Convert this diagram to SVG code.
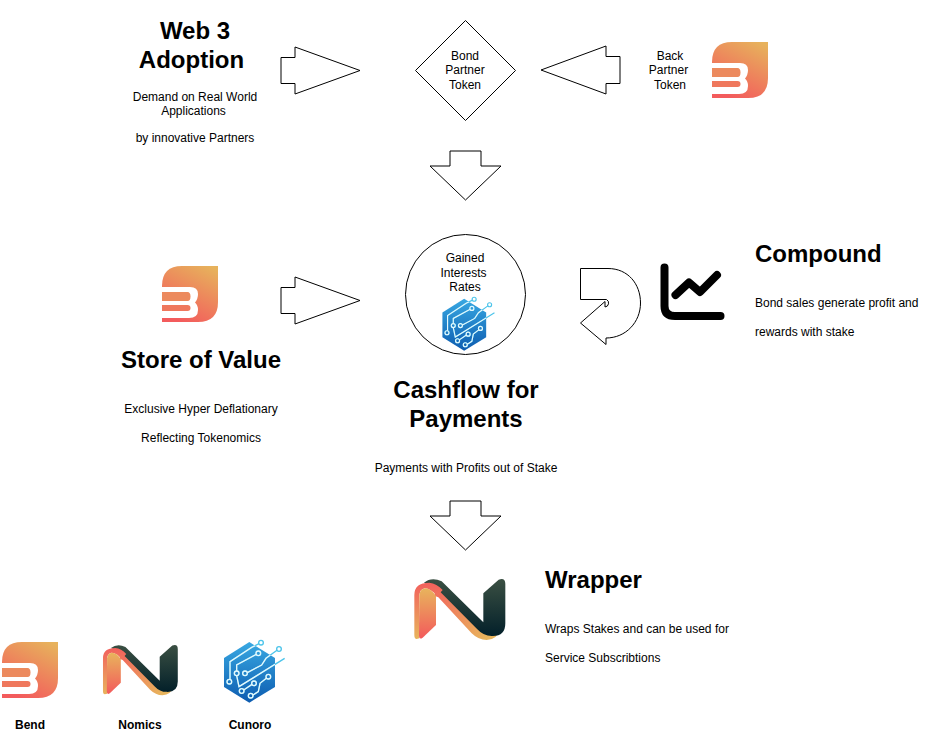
<svg xmlns="http://www.w3.org/2000/svg" width="931" height="741" viewBox="0 0 931 741">
<style>
text{font-family:"Liberation Sans",Arial,Helvetica,sans-serif;fill:#000;text-anchor:middle}
.t{font-size:12px}
.l{font-size:12px;text-anchor:start}
.h{font-size:24px;font-weight:bold}
.hl{font-size:24px;font-weight:bold;text-anchor:start}
.b{font-size:12px;font-weight:bold}
.s{fill:#fff;stroke:#000;stroke-width:1}
</style>
<defs>
<linearGradient id="bg" x1="0.85" y1="0" x2="0.35" y2="1"><stop offset="0" stop-color="#e7b25c"/><stop offset="1" stop-color="#f35b5c"/></linearGradient>
<linearGradient id="nd" x1="0" y1="0" x2="0" y2="1"><stop offset="0" stop-color="#3a4f42"/><stop offset="1" stop-color="#03202a"/></linearGradient>
<linearGradient id="no" x1="0" y1="0" x2="1" y2="0.6"><stop offset="0" stop-color="#f2605c"/><stop offset="1" stop-color="#e8b45c"/></linearGradient>
<linearGradient id="nr" x1="0" y1="0" x2="0" y2="1"><stop offset="0" stop-color="#f2605c"/><stop offset="1" stop-color="#e8b45c"/></linearGradient>
<linearGradient id="ni" x1="0" y1="0" x2="0" y2="1"><stop offset="0" stop-color="#e8b45c"/><stop offset="1" stop-color="#f35a5c"/></linearGradient>
<linearGradient id="cb" x1="0" y1="0" x2="0" y2="1"><stop offset="0" stop-color="#38a8e2"/><stop offset="1" stop-color="#0d5cb0"/></linearGradient>
<clipPath id="hex"><path d="M118,36L195,84V171L118,218L42,171V84Z"/></clipPath>
<path id="bend-bars" d="M0,21H28Q36,21 36,28Q36,33 33,36.500Q36,39 36,44Q36,52 27,52H0Z"/>
<g id="bend">
<path d="M20,0H56V36Q56,56 36,56H0V20Q0,0 20,0Z" fill="url(#bg)"/>
<use href="#bend-bars" fill="#fff"/>
<path d="M0,26H25.500Q28.500,26 28.500,30.500Q28.500,35 25.500,35H0Z" fill="#ec8a5e"/>
<path d="M0,39H25.500Q28.500,39 28.500,42Q28.500,45 25.500,45H0Z" fill="#ef785d"/>
</g>
<g id="nomics">
<path d="M100,70Q125,80 135,95L240,205Q262,222 302,205Q292,240 260,240Q235,240 215,220L115,112L105,108Z" fill="url(#no)"/>
<path d="M72,68Q95,50 125,64L250,187V100L296,59Q316,52 316,72V190Q316,230 275,228Q250,228 232,208L110,85Z" fill="url(#nd)"/>
<path d="M43,105Q43,68 88,68Q110,70 128,90L112,108Q90,85 75,85Q60,87 58,105V235L50,237Q43,237 43,225Z" fill="url(#nr)"/>
<path d="M58,105Q60,87 76,85Q92,85 108,108V195L68,233Q58,240 57,228Z" fill="url(#ni)"/>
</g>
<g id="circuit" fill="none" stroke-width="4">
<path d="M147,41L125,52L60,95V148M139,73L80,105V123M201,61L168,85L155,105L112,128M224,85L87,170L80,137M169,145L150,160L145,185L129,195M126,163L101,180"/>
<circle cx="153" cy="38" r="7"/><circle cx="207" cy="57" r="7"/><circle cx="145" cy="70" r="7"/><circle cx="80" cy="130" r="7"/><circle cx="105" cy="130" r="7"/><circle cx="58" cy="155" r="7"/><circle cx="175" cy="140" r="7"/><circle cx="132" cy="160" r="7"/><circle cx="95" cy="183" r="7"/><circle cx="122" cy="197" r="7"/>
</g>
<g id="cunoro">
<path d="M118,36L195,84V171L118,218L42,171V84Z" fill="url(#cb)"/>
<use href="#circuit" stroke="#4cc4ea"/>
<g clip-path="url(#hex)"><use href="#circuit" stroke="#e4f7fc"/></g>
</g>
</defs>

<g id="connectors">
<path class="s" d="M281,57.500H295V47L360,70.500L295,94V83.500H281Z"/>
<path class="s" d="M620,56.500H606V46L541,70L606,94V83.500H620Z"/>
<path class="s" d="M450,151H481V166H501L465.500,200L430,166H450Z"/>
<path class="s" d="M281,287.500H295V277L360,300.500L295,324V313.500H281Z"/>
<path class="s" d="M450,501H481V516H501L465.500,550L430,516H450Z"/>
<path class="s" d="M580.500,268.500H608C628,268.500 640.500,284 640.500,303C640.500,322 626,338 606,338V344.500L580.500,323L605,301.500V307A4,4 0 0 0 606.500,299.500H580.500Z"/>
</g>

<g id="web3">
<text class="h" x="195" y="39">Web 3</text>
<text class="h" x="191.500" y="68">Adoption</text>
<text class="t" x="195" y="101">Demand on Real World</text>
<text class="t" x="193.500" y="115">Applications</text>
<text class="t" x="195" y="142">by innovative Partners</text>
</g>
<g id="bond-token">
<path class="s" d="M465.500,20.500L515.500,70.500L465.500,120.500L415.500,70.500Z"/>
<text class="t" x="465" y="60">Bond</text>
<text class="t" x="465" y="74">Partner</text>
<text class="t" x="465" y="89">Token</text>
</g>
<g id="back-token">
<text class="t" x="670" y="60">Back</text>
<text class="t" x="668.500" y="74">Partner</text>
<text class="t" x="670" y="89">Token</text>
<use href="#bend" x="712" y="42"/>
</g>
<g id="store-of-value">
<use href="#bend" x="162" y="266"/>
<text class="h" x="201" y="368">Store of Value</text>
<text class="t" x="201" y="413">Exclusive Hyper Deflationary</text>
<text class="t" x="201" y="442">Reflecting Tokenomics</text>
</g>
<g id="gained">
<circle class="s" cx="465.500" cy="294.500" r="60"/>
<text class="t" x="465" y="262">Gained</text>
<text class="t" x="463.500" y="277">Interests</text>
<text class="t" x="465" y="291">Rates</text>
<use href="#cunoro" transform="translate(430.400,288.400) scale(.286)"/>
</g>
<g id="cashflow">
<text class="h" x="466" y="398">Cashflow for</text>
<text class="h" x="466" y="427">Payments</text>
<text class="t" x="466" y="472">Payments with Profits out of Stake</text>
</g>
<g id="compound">
<path d="M664.500,267.500V306Q664.500,316 675,316H720.500" fill="none" stroke="#000" stroke-width="8" stroke-linecap="round" stroke-linejoin="round"/>
<path d="M675.500,295L689,282.500L700,292L717,275" fill="none" stroke="#000" stroke-width="8" stroke-linecap="round" stroke-linejoin="round"/>
<text class="hl" x="755" y="262">Compound</text>
<text class="l" x="755" y="307">Bond sales generate profit and</text>
<text class="l" x="755" y="336">rewards with stake</text>
</g>
<g id="wrapper">
<use href="#nomics" transform="translate(400,560) scale(.3333)"/>
<text class="hl" x="545" y="588">Wrapper</text>
<text class="l" x="545" y="633">Wraps Stakes and can be used for</text>
<text class="l" x="545" y="662">Service Subscribtions</text>
</g>
<g id="bend-logo">
<use href="#bend" x="2" y="642"/>
<text class="b" x="30" y="729">Bend</text>
</g>
<g id="nomics-logo">
<use href="#nomics" transform="translate(91.200,629.400) scale(.274)"/>
<text class="b" x="140" y="729">Nomics</text>
</g>
<g id="cunoro-logo">
<use href="#cunoro" transform="translate(210,630) scale(.3333)"/>
<text class="b" x="250" y="729">Cunoro</text>
</g>
</svg>
